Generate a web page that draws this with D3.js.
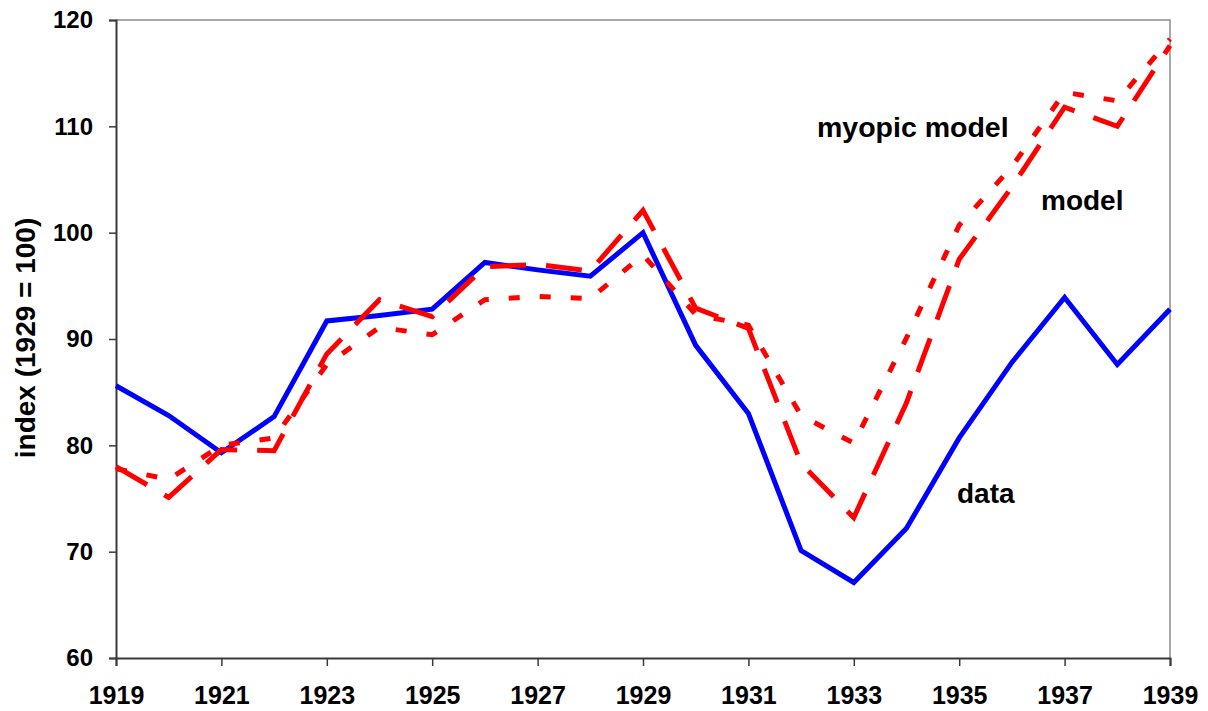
<!DOCTYPE html>
<html>
<head>
<meta charset="utf-8">
<script src="https://cdn.jsdelivr.net/npm/d3@7"></script>
<style>
  body { margin: 0; background: #fff; }
  svg { display: block; }
  text { font-family: "Liberation Sans", Arial, sans-serif; font-weight: bold; fill: #000; }
</style>
</head>
<body>
<svg id="chart" width="1208" height="711"></svg>
<script>
// years 1919..1939
var years = [1919,1920,1921,1922,1923,1924,1925,1926,1927,1928,1929,
             1930,1931,1932,1933,1934,1935,1936,1937,1938,1939];
var dataSeries = [85.6,82.8,79.3,82.7,91.7,92.2,92.8,97.2,96.5,95.9,100.0,
                  89.4,83.0,70.1,67.1,72.2,80.7,87.8,93.9,87.6,92.8];
var modelSeries = [78.0,75.1,79.6,79.5,88.6,93.7,92.1,96.8,97.0,96.4,102.1,
                   92.9,91.0,78.3,73.2,84.0,97.5,104.3,111.8,110.0,117.6];
var myopicSeries = [77.8,76.8,80.0,80.7,87.6,91.1,90.4,93.7,94.0,93.8,97.9,
                    92.3,91.3,82.8,80.2,90.1,100.7,106.2,113.2,112.4,118.2];
var xTicks = [1919,1921,1923,1925,1927,1929,1931,1933,1935,1937,1939];
var yTicks = [60,70,80,90,100,110,120];

var svg = d3.select("#chart");
var x = d3.scaleLinear().domain([1919,1939]).range([116,1170]);
var y = d3.scaleLinear().domain([60,120]).range([658,20]);

// plot frame top / right
svg.append("path")
    .attr("d", "M" + x(1919) + "," + y(120) + "H" + x(1939) + "V" + y(60))
    .attr("fill", "none")
    .attr("stroke", "#8c8c8c")
    .attr("stroke-width", 1.5);

var yAxis = svg.append("g")
    .attr("transform", "translate(" + x(1919) + ",0)")
    .call(d3.axisLeft(y).tickValues(yTicks).tickSize(7).tickPadding(16).tickFormat(d3.format("d")));
var xAxis = svg.append("g")
    .attr("transform", "translate(0," + y(60) + ")")
    .call(d3.axisBottom(x).tickValues(xTicks).tickSize(8).tickPadding(20).tickFormat(d3.format("d")));

[yAxis, xAxis].forEach(function(a){
    a.select(".domain").attr("stroke", "#3a3a3a").attr("stroke-width", 2);
    a.selectAll(".tick line").attr("stroke", "#3a3a3a").attr("stroke-width", 1.5);
    a.selectAll(".tick text").style("font-size", "24px").attr("fill", "#000");
});
xAxis.selectAll(".tick text").style("font-size", "25px").attr("dy", "0.71em");

svg.append("text")
    .attr("transform", "translate(35,338) rotate(-90)")
    .attr("text-anchor", "middle")
    .style("font-size", "28px")
    .text("index (1929 = 100)");

var line = function(vals){
    return d3.line()
        .x(function(d,i){ return x(years[i]); })
        .y(function(d){ return y(d); })(vals);
};

svg.append("path").attr("d", line(dataSeries))
    .attr("fill", "none").attr("stroke", "#0000ff").attr("stroke-width", 5)
    .attr("stroke-linejoin", "miter");
svg.append("path").attr("d", line(modelSeries))
    .attr("fill", "none").attr("stroke", "#ff0000").attr("stroke-width", 5)
    .attr("stroke-dasharray", "36,20");
svg.append("path").attr("d", line(myopicSeries))
    .attr("fill", "none").attr("stroke", "#ff0000").attr("stroke-width", 5)
    .attr("stroke-dasharray", "11,20");

// series labels
svg.append("text").attr("x", 817).attr("y", 137).style("font-size", "28.5px").text("myopic model");
svg.append("text").attr("x", 1041).attr("y", 210).style("font-size", "28px").text("model");
svg.append("text").attr("x", 957).attr("y", 503).style("font-size", "28px").text("data");
</script>
</body>
</html>
